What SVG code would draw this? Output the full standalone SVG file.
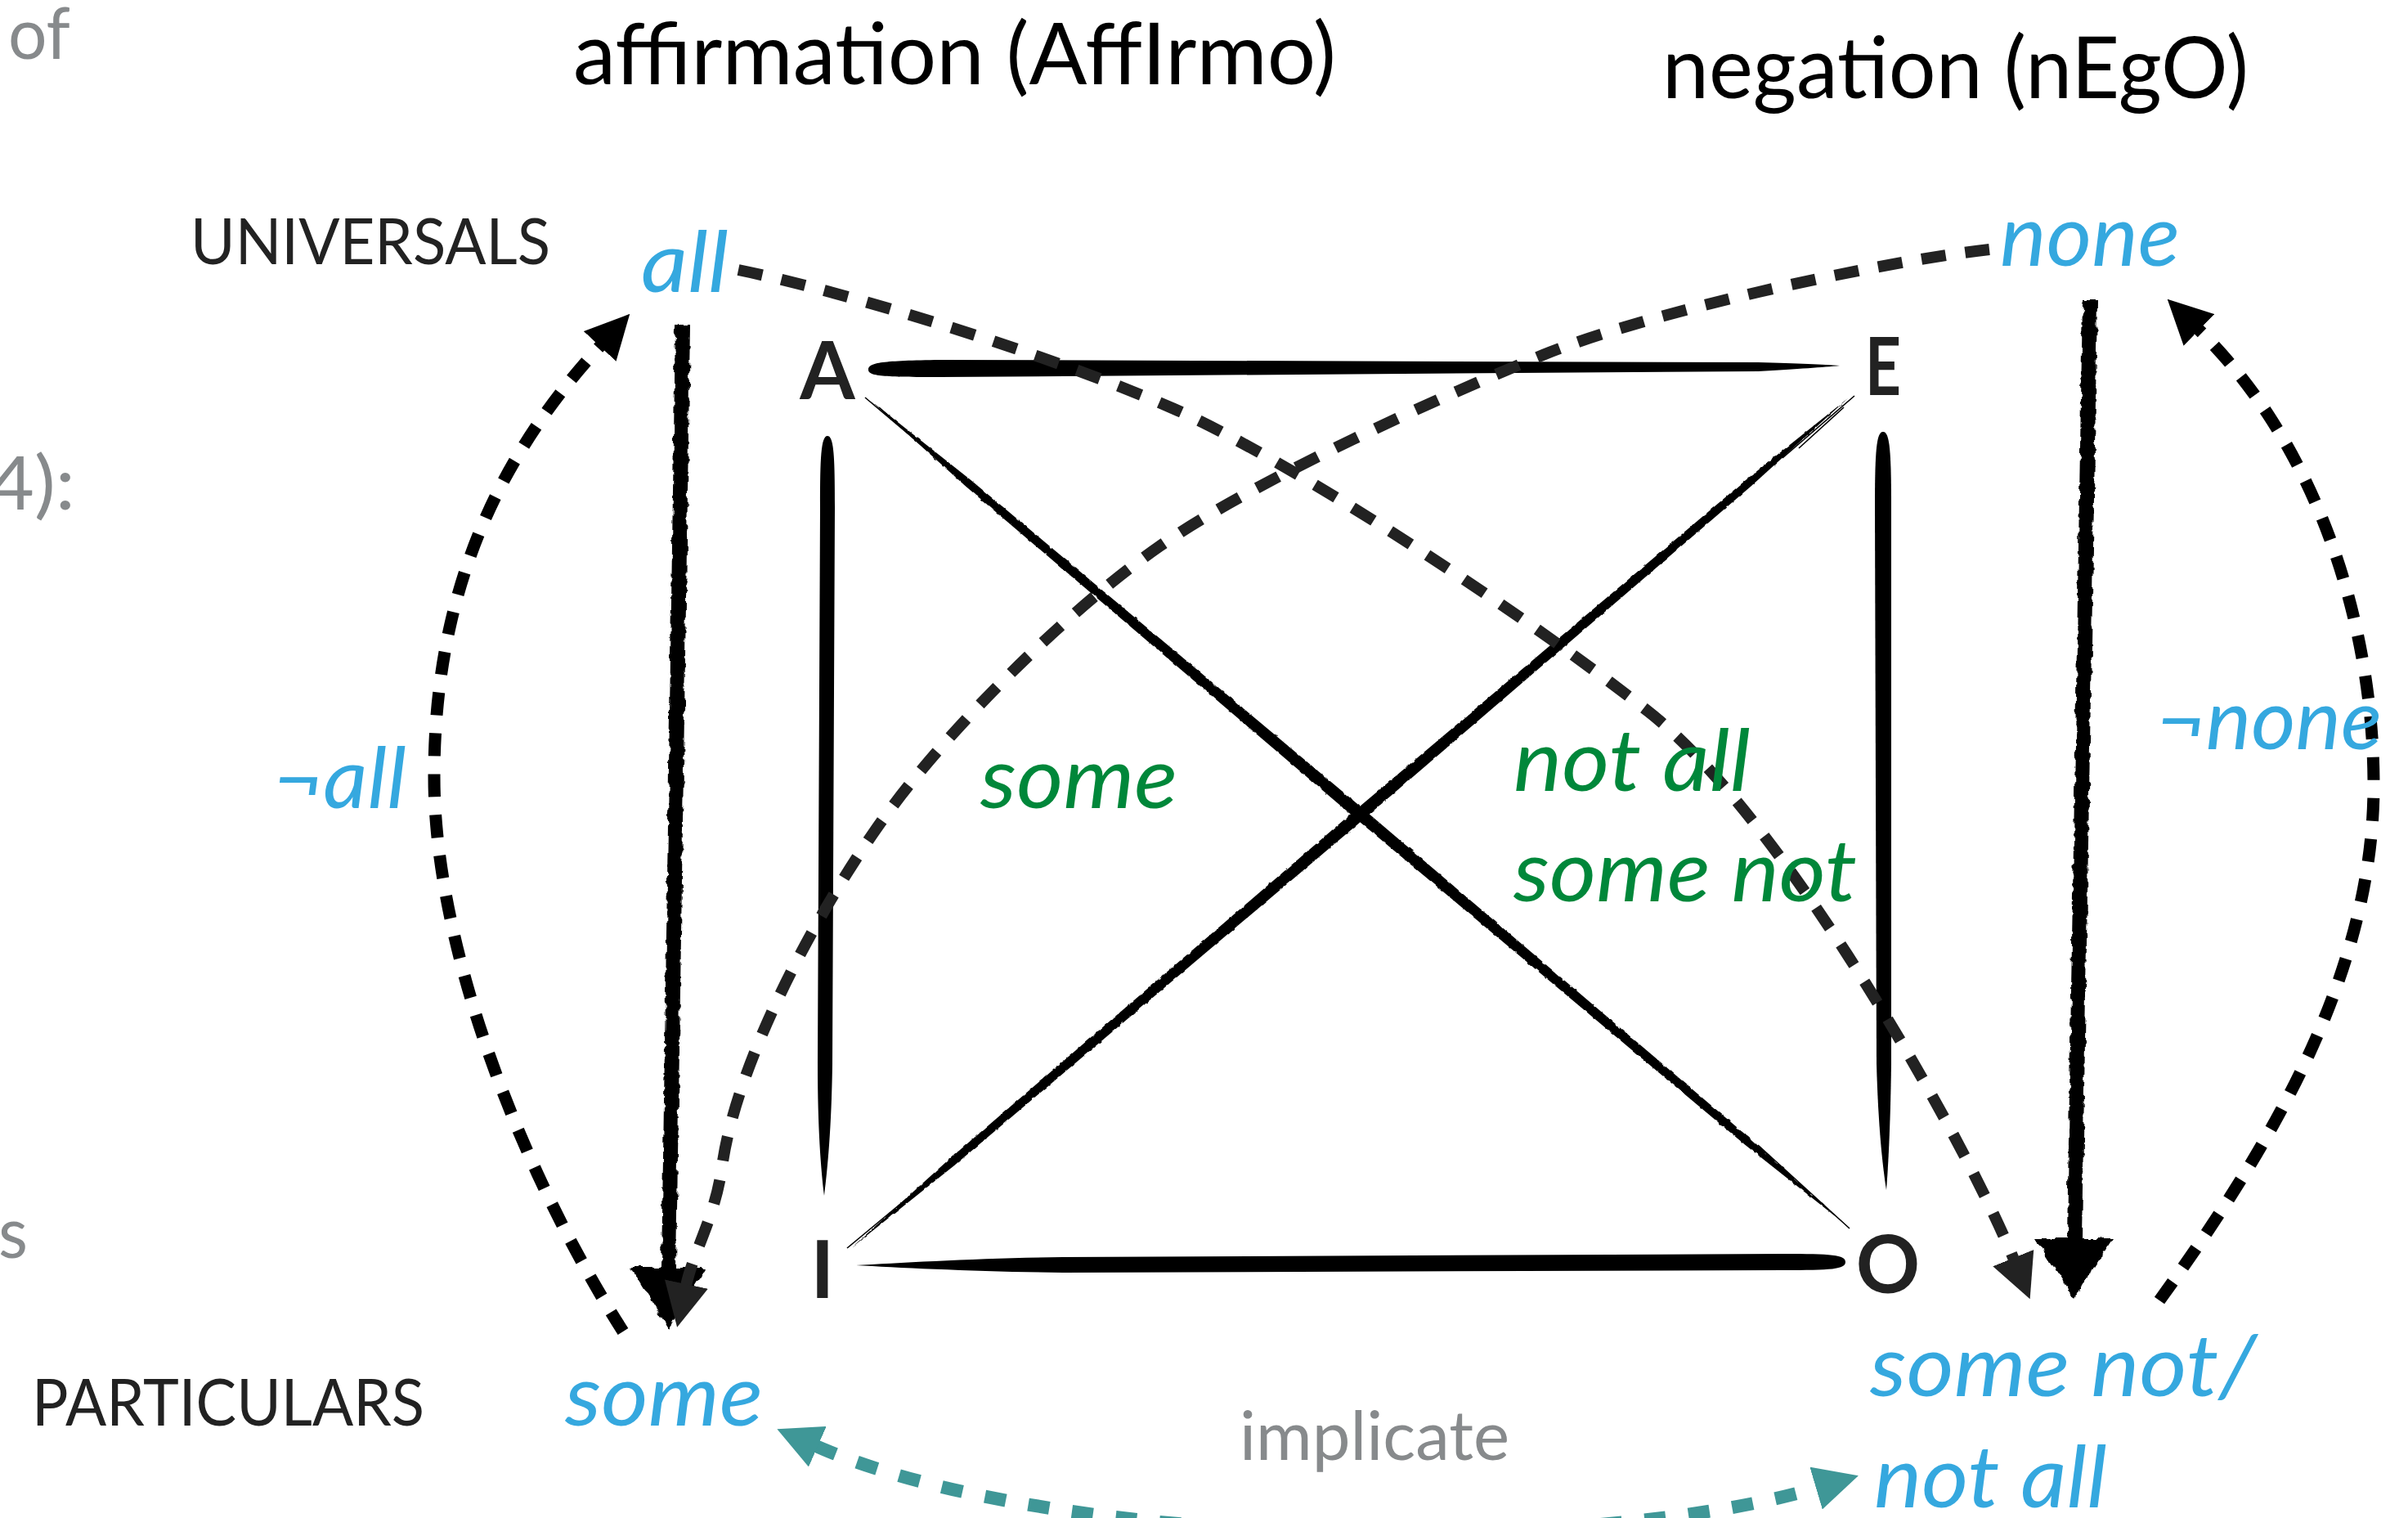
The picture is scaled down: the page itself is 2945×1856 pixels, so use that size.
<svg xmlns="http://www.w3.org/2000/svg" width="2945" height="1856" viewBox="0 0 2945 1856">
<defs>
<style>
.t{font-family:Lato,'Open Sans','Liberation Sans',sans-serif}
.grey{fill:#878a8c}
.dark{fill:#222;font-weight:bold}
.blk{fill:#000}
.blue{fill:#35a8df;font-style:italic}
.green{fill:#00873a;font-style:italic}
.dash{fill:none;stroke:#222;stroke-width:14;stroke-dasharray:30 24}
.arc{fill:none;stroke:#000;stroke-width:15;stroke-dasharray:28 22}
.teal{fill:none;stroke:#3f9797;stroke-width:16;stroke-dasharray:26 28}
.brush{fill:#000}
.hair{fill:none;stroke:#000;stroke-width:1.6}
</style>
<marker id="hd" markerUnits="userSpaceOnUse" viewBox="0 0 54 54" markerWidth="54" markerHeight="54" refX="2" refY="27" orient="auto"><path d="M0,0 L54,27 L0,54 Z" fill="#222"/></marker>
<marker id="hb" markerUnits="userSpaceOnUse" viewBox="0 0 54 54" markerWidth="54" markerHeight="54" refX="2" refY="27" orient="auto"><path d="M0,0 L54,27 L0,54 Z" fill="#000"/></marker>
<marker id="ht" markerUnits="userSpaceOnUse" viewBox="0 0 54 54" markerWidth="54" markerHeight="54" refX="2" refY="27" orient="auto-start-reverse"><path d="M0,0 L54,27 L0,54 Z" fill="#3f9797"/></marker>
<filter id="rough" filterUnits="userSpaceOnUse" x="0" y="0" width="2945" height="1856">
<feTurbulence type="fractalNoise" baseFrequency="0.09" numOctaves="2" seed="4" result="n"/>
<feDisplacementMap in="SourceGraphic" in2="n" scale="7" xChannelSelector="R" yChannelSelector="G"/>
</filter>
<filter id="rough2" filterUnits="userSpaceOnUse" x="0" y="0" width="2945" height="1856">
<feTurbulence type="fractalNoise" baseFrequency="0.12" numOctaves="2" seed="7" result="n"/>
<feDisplacementMap in="SourceGraphic" in2="n" scale="3" xChannelSelector="R" yChannelSelector="G"/>
</filter>
</defs>
<rect width="2945" height="1856" fill="#fff"/>

<g id="fragments" class="t grey">
<text x="10" y="72" font-size="88" textLength="76" lengthAdjust="spacingAndGlyphs">of</text>
<text x="-14" y="623" font-size="92" textLength="106" lengthAdjust="spacingAndGlyphs">4):</text>
<text x="-2" y="1538" font-size="88" textLength="36" lengthAdjust="spacingAndGlyphs">s</text>
</g>

<g id="headers" class="t">
<text class="blk" x="701" y="103" font-size="104" textLength="933" lengthAdjust="spacingAndGlyphs">affirmation (AffIrmo)</text>
<text class="blk" x="2033" y="120" font-size="104" textLength="717" lengthAdjust="spacingAndGlyphs">negation (nEgO)</text>
<text fill="#222" x="233" y="323" font-size="78" textLength="440" lengthAdjust="spacingAndGlyphs">UNIVERSALS</text>
<text fill="#222" x="39" y="1743" font-size="80" textLength="480" lengthAdjust="spacingAndGlyphs">PARTICULARS</text>
</g>

<g id="connectors">
<path class="brush" d="M1062,452 C1062,443 1080,441 1150,440 L2150,443 C2200,444 2230,446 2250,447 C2230,449 2200,451 2150,454 L1150,461 C1080,461 1062,460 1062,452 Z"/>
<path class="brush" d="M2257,1543 C2257,1534 2240,1533 2180,1533 L1300,1537 C1200,1538 1100,1544 1047,1547 C1100,1550 1200,1555 1300,1556 L2180,1553 C2240,1553 2257,1552 2257,1543 Z"/>
<path class="brush" d="M1012,533 C1020,533 1021,560 1021,620 L1018,1300 C1017,1380 1012,1430 1008,1462 C1004,1430 1000,1380 1000,1300 L1003,620 C1003,560 1004,533 1012,533 Z"/>
<path class="brush" d="M2303,528 C2311,528 2313,550 2313,620 L2313,1300 C2312,1380 2309,1430 2307,1455 C2303,1430 2297,1380 2295,1300 L2293,620 C2293,550 2295,528 2303,528 Z"/>
<g filter="url(#rough2)">
<path class="brush" d="M1065,490 L1181,594.5 L1656.2,999.2 L2134.6,1400.1 L2257,1497 L2141,1392.5 L1665.8,987.8 L1187.4,586.9 Z"/>
<path class="brush" d="M1042,1525 L1167.1,1425 L1655.9,1011.7 L2141.5,594.6 L2260,487 L2135,587 L1646.1,1000.3 L1160.6,1417.4 Z"/>
</g>
<path class="hair" d="M1058,486 L1300,690 M1075,498 L1250,650 M2150,1400 L2262,1502"/>
<path class="hair" d="M1036,1526 L1200,1390 M2180,560 L2268,484 M2200,548 L2255,498"/>
<g filter="url(#rough)">
<path class="brush" d="M826,397 L844,397 L827,1550 L863,1550 L818,1625 L772,1550 L809,1550 Z"/>
<path class="brush" d="M2547,367 L2565,367 L2546,1514 L2584,1514 L2537,1588 L2489,1514 L2528,1514 Z"/>
</g>
<path class="dash" marker-end="url(#hd)" d="M903,330 C1050,360 1300,440 1436,500 S1850,740 2016,870 S2403,1393 2463,1540"/>
<path class="dash" marker-end="url(#hd)" d="M2433,305 C2300,320 2020,380 1887,434 S1530,590 1418,668 S1160,890 1079,1003 S900,1300 883,1427 C874,1490 848,1530 839,1572"/>
<path class="arc" marker-end="url(#hb)" d="M762,1628 C630,1420 531,1150 531,950 C531,750 591,578 735,422"/>
<path class="arc" marker-end="url(#hb)" d="M2641,1590 C2765,1418 2903,1200 2903,960 C2903,760 2832,542 2688,402"/>
<path class="teal" marker-start="url(#ht)" marker-end="url(#ht)" d="M998,1768 C1300,1900 1950,1900 2223,1819"/>
</g>

<g id="node-A"><text class="t dark" x="1012" y="488" font-size="97" text-anchor="middle">A</text></g>
<g id="node-E"><text class="t dark" x="2303" y="483" font-size="97" text-anchor="middle" textLength="44" lengthAdjust="spacingAndGlyphs">E</text></g>
<g id="node-I"><text class="t dark" x="1006" y="1587" font-size="97" text-anchor="middle">I</text></g>
<g id="node-O"><text class="t dark" x="2309" y="1581" font-size="97" text-anchor="middle">O</text></g>

<g id="node-all"><text class="t blue" x="784" y="357" font-size="102" textLength="107" lengthAdjust="spacingAndGlyphs">all</text></g>
<g id="node-none"><text class="t blue" x="2446" y="325" font-size="104" textLength="220" lengthAdjust="spacingAndGlyphs">none</text></g>
<g id="node-some"><text class="t blue" x="691" y="1743" font-size="104" textLength="242" lengthAdjust="spacingAndGlyphs">some</text></g>
<g id="node-somenot">
<text class="t blue" x="2287" y="1707" font-size="104" textLength="473" lengthAdjust="spacingAndGlyphs">some not/</text>
<text class="t blue" x="2292" y="1843" font-size="104" textLength="285" lengthAdjust="spacingAndGlyphs">not all</text>
</g>

<g id="labels" class="t">
<text class="blue" x="334" y="988" font-size="102" textLength="163" lengthAdjust="spacingAndGlyphs">¬all</text>
<text class="blue" x="2637" y="916" font-size="102" textLength="276" lengthAdjust="spacingAndGlyphs">¬none</text>
<text class="green" x="1199" y="988" font-size="104" textLength="241" lengthAdjust="spacingAndGlyphs">some</text>
<text class="green" x="1851" y="967" font-size="104" textLength="290" lengthAdjust="spacingAndGlyphs">not all</text>
<text class="green" x="1851" y="1102" font-size="104" textLength="420" lengthAdjust="spacingAndGlyphs">some not</text>
<text class="grey" x="1516" y="1785" font-size="84" textLength="330" lengthAdjust="spacingAndGlyphs">implicate</text>
</g>
</svg>
